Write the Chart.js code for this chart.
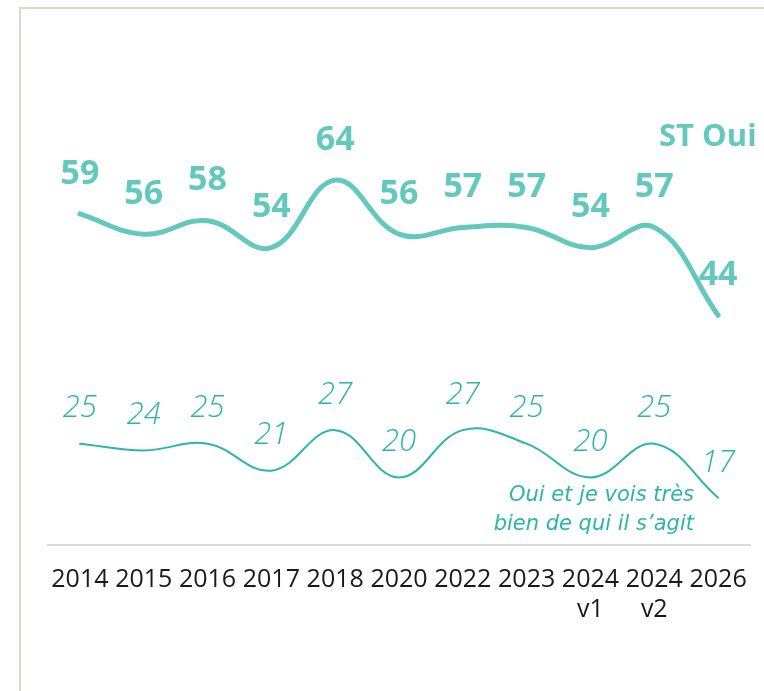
<!DOCTYPE html>
<html>
<head>
<meta charset="utf-8">
<script src="https://cdn.jsdelivr.net/npm/chart.js@4/dist/chart.umd.min.js"></script>
<style>
  html, body { margin: 0; padding: 0; background: #fff; }
  #wrap { position: relative; width: 764px; height: 691px; overflow: hidden; }
  #frame {
    position: absolute; left: 19px; top: 7px; right: -10px; bottom: -10px;
    border-left: 2px solid #ddd6cf; border-top: 2px solid #ddd6cf;
    pointer-events: none;
  }
  canvas { position: absolute; left: 0; top: 0; }
</style>
</head>
<body>
<div id="wrap">
  <canvas id="chart" width="764" height="691"></canvas>
  <div id="frame"></div>
</div>
<script>
// data
const years = ['2014', '2015', '2016', '2017', '2018', '2020', '2022', '2023', '2024 v1', '2024 v2', '2026'];
const stOui = [59, 56, 58, 54, 64, 56, 57, 57, 54, 57, 44];
const ouiTresBien = [25, 24, 25, 21, 27, 20, 27, 25, 20, 25, 17];

const topColor = '#63c9bc';
const lowColor = '#2bb6a7';
const fontFamily = '"Open Sans", "Noto Sans", sans-serif';

// draws the value above each point + the series names
const pointLabels = {
  id: 'pointLabels',
  afterDatasetsDraw(chart) {
    const ctx = chart.ctx;
    chart.data.datasets.forEach((ds, i) => {
      const meta = chart.getDatasetMeta(i);
      ctx.save();
      ctx.font = ds.labelFont;
      ctx.fillStyle = ds.borderColor;
      ctx.textAlign = 'center';
      ctx.textBaseline = 'middle';
      meta.data.forEach((pt, j) => {
        ctx.fillText(String(ds.data[j]), pt.x, pt.y - ds.labelOffset);
      });
      ctx.restore();
    });

    ctx.save();
    ctx.fillStyle = topColor;
    ctx.font = 'bold 31px ' + fontFamily;
    ctx.textAlign = 'left';
    ctx.textBaseline = 'middle';
    ctx.fillText('ST Oui', 659, 137);

    ctx.fillStyle = lowColor;
    ctx.font = 'oblique 21px "DejaVu Sans", sans-serif';
    ctx.textAlign = 'right';
    ctx.fillText('Oui et je vois très', 694, 496);
    ctx.fillText('bien de qui il s\u2019agit', 694, 525);
    ctx.restore();
  }
};

new Chart(document.getElementById('chart'), {
  type: 'line',
  data: {
    labels: years,
    datasets: [
      {
        label: 'ST Oui',
        data: stOui,
        borderColor: topColor,
        borderWidth: 5,
        borderCapStyle: 'round',
        tension: 0.4,
        pointRadius: 0,
        fill: false,
        labelFont: 'bold 34px ' + fontFamily,
        labelOffset: 40,
      },
      {
        label: 'Oui et je vois très bien de qui il s\u2019agit',
        data: ouiTresBien,
        borderColor: lowColor,
        borderWidth: 2,
        borderCapStyle: 'round',
        tension: 0.4,
        pointRadius: 0,
        fill: false,
        labelFont: 'italic 300 31px ' + fontFamily,
        labelOffset: 35,
      },
    ],
  },
  options: {
    responsive: false,
    animation: false,
    layout: { padding: { left: 48, right: 14, top: 72, bottom: 0 } },
    plugins: {
      legend: { display: false },
      tooltip: { enabled: false },
    },
    scales: {
      x: {
        offset: true,
        grid: { display: false, drawTicks: false },
        border: { display: true, color: '#d9d9d9', width: 2 },
        afterFit: (scale) => {
          scale.height = 146;
          // labels fit inside the offset, no extra side padding needed
          scale.paddingLeft = 0;
          scale.paddingRight = 0;
        },
        ticks: {
          autoSkip: false,
          maxRotation: 0,
          minRotation: 0,
          padding: 20,
          color: '#1a1a1a',
          font: { family: fontFamily, size: 25 },
          callback: function (value) {
            return this.getLabelForValue(value).split(' ');
          },
        },
      },
      y: {
        display: false,
        min: 10,
        max: 80,
      },
    },
  },
  plugins: [pointLabels],
});
</script>
</body>
</html>
